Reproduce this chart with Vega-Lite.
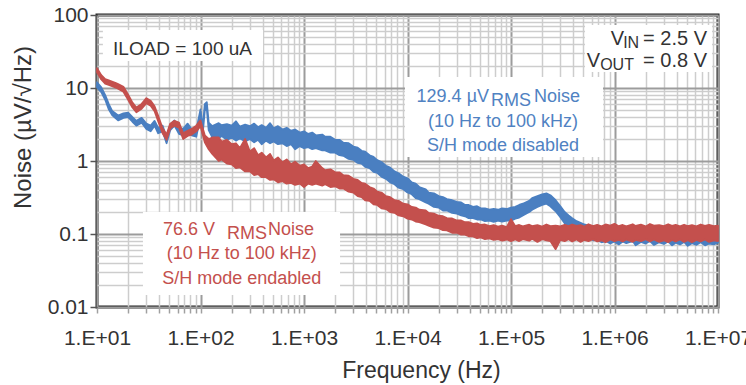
{
  "$schema": "https://vega.github.io/schema/vega-lite/v6.json",
  "width": 621,
  "height": 292,
  "autosize": {"type": "none"},
  "padding": {"left": 97, "top": 15, "right": 28, "bottom": 78},
  "background": "white",
  "config": {
    "view": {"stroke": "#202020", "strokeWidth": 3},
    "font": "Liberation Sans",
    "text": {"font": "Liberation Sans", "baseline": "alphabetic"}
  },
  "datasets": {
    "disabled": [
      {"f": 10, "lo": 10.2, "hi": 12.0}, {"f": 11, "lo": 8.8, "hi": 10.2}, {"f": 12, "lo": 6.9, "hi": 8.0},
      {"f": 13, "lo": 5.1, "hi": 6.0}, {"f": 14, "lo": 4.25, "hi": 4.85}, {"f": 15, "lo": 3.9, "hi": 4.5},
      {"f": 16, "lo": 3.6, "hi": 4.2}, {"f": 18, "lo": 3.9, "hi": 4.5}, {"f": 20, "lo": 4.0, "hi": 4.6},
      {"f": 22, "lo": 3.45, "hi": 4.0}, {"f": 24, "lo": 3.05, "hi": 3.55}, {"f": 27, "lo": 3.35, "hi": 3.9},
      {"f": 30, "lo": 2.75, "hi": 3.25}, {"f": 33, "lo": 2.55, "hi": 3.05}, {"f": 36, "lo": 3.05, "hi": 3.55},
      {"f": 39, "lo": 2.4, "hi": 2.85}, {"f": 43, "lo": 2.55, "hi": 3.05}, {"f": 47, "lo": 1.75, "hi": 2.1},
      {"f": 51, "lo": 2.65, "hi": 3.15}, {"f": 56, "lo": 3.05, "hi": 3.6}, {"f": 62, "lo": 2.35, "hi": 2.85},
      {"f": 68, "lo": 2.25, "hi": 2.75}, {"f": 75, "lo": 2.75, "hi": 3.25}, {"f": 82, "lo": 2.25, "hi": 2.75},
      {"f": 91, "lo": 2.15, "hi": 2.65}, {"f": 100, "lo": 4.1, "hi": 5.1}, {"f": 105, "lo": 2.35, "hi": 2.85},
      {"f": 110, "lo": 4.9, "hi": 6.0}, {"f": 115, "lo": 5.2, "hi": 6.4}, {"f": 120, "lo": 2.65, "hi": 3.35},
      {"f": 130, "lo": 2.1, "hi": 3.0}, {"f": 150, "lo": 2.05, "hi": 3.3}, {"f": 160, "lo": 2.2, "hi": 3.1},
      {"f": 180, "lo": 1.95, "hi": 3.2}, {"f": 200, "lo": 2.1, "hi": 3.05}, {"f": 220, "lo": 1.9, "hi": 3.5},
      {"f": 240, "lo": 2.05, "hi": 2.95}, {"f": 270, "lo": 1.85, "hi": 3.15}, {"f": 300, "lo": 2.0, "hi": 3.0},
      {"f": 330, "lo": 1.8, "hi": 3.25}, {"f": 360, "lo": 1.95, "hi": 2.9}, {"f": 390, "lo": 1.7, "hi": 3.1},
      {"f": 430, "lo": 1.9, "hi": 2.85}, {"f": 470, "lo": 1.75, "hi": 3.3}, {"f": 510, "lo": 1.85, "hi": 2.8},
      {"f": 560, "lo": 1.7, "hi": 3.0}, {"f": 620, "lo": 1.75, "hi": 2.7}, {"f": 680, "lo": 1.6, "hi": 2.85},
      {"f": 750, "lo": 1.7, "hi": 2.6}, {"f": 820, "lo": 1.45, "hi": 2.7}, {"f": 910, "lo": 1.6, "hi": 2.45},
      {"f": 1000, "lo": 1.5, "hi": 2.55}, {"f": 1100, "lo": 1.55, "hi": 2.35}, {"f": 1200, "lo": 1.45, "hi": 2.45},
      {"f": 1300, "lo": 1.5, "hi": 2.25}, {"f": 1500, "lo": 1.4, "hi": 2.3}, {"f": 1600, "lo": 1.4, "hi": 2.15},
      {"f": 1800, "lo": 1.3, "hi": 2.15}, {"f": 2000, "lo": 1.3, "hi": 1.95}, {"f": 2200, "lo": 1.2, "hi": 1.95},
      {"f": 2400, "lo": 1.18, "hi": 1.78}, {"f": 2700, "lo": 1.07, "hi": 1.75}, {"f": 3000, "lo": 1.04, "hi": 1.58},
      {"f": 3300, "lo": 0.94, "hi": 1.52}, {"f": 3600, "lo": 0.92, "hi": 1.38}, {"f": 3900, "lo": 0.83, "hi": 1.34},
      {"f": 4300, "lo": 0.8, "hi": 1.2}, {"f": 4700, "lo": 0.71, "hi": 1.14}, {"f": 5100, "lo": 0.69, "hi": 1.03},
      {"f": 5600, "lo": 0.61, "hi": 0.97}, {"f": 6200, "lo": 0.57, "hi": 0.86}, {"f": 6800, "lo": 0.51, "hi": 0.81},
      {"f": 7500, "lo": 0.48, "hi": 0.72}, {"f": 8200, "lo": 0.43, "hi": 0.68}, {"f": 9100, "lo": 0.41, "hi": 0.61},
      {"f": 10000, "lo": 0.37, "hi": 0.58}, {"f": 11000, "lo": 0.35, "hi": 0.51}, {"f": 12000, "lo": 0.31, "hi": 0.49},
      {"f": 13000, "lo": 0.3, "hi": 0.44}, {"f": 15000, "lo": 0.27, "hi": 0.41}, {"f": 16000, "lo": 0.26, "hi": 0.37},
      {"f": 18000, "lo": 0.235, "hi": 0.36}, {"f": 20000, "lo": 0.23, "hi": 0.33}, {"f": 22000, "lo": 0.21, "hi": 0.32},
      {"f": 24000, "lo": 0.21, "hi": 0.3}, {"f": 27000, "lo": 0.195, "hi": 0.29}, {"f": 30000, "lo": 0.19, "hi": 0.275},
      {"f": 33000, "lo": 0.18, "hi": 0.27}, {"f": 36000, "lo": 0.175, "hi": 0.25}, {"f": 39000, "lo": 0.165, "hi": 0.25},
      {"f": 43000, "lo": 0.165, "hi": 0.235}, {"f": 47000, "lo": 0.158, "hi": 0.24}, {"f": 51000, "lo": 0.158, "hi": 0.225},
      {"f": 56000, "lo": 0.15, "hi": 0.225}, {"f": 62000, "lo": 0.152, "hi": 0.215}, {"f": 68000, "lo": 0.147, "hi": 0.22},
      {"f": 75000, "lo": 0.152, "hi": 0.215}, {"f": 82000, "lo": 0.148, "hi": 0.225}, {"f": 91000, "lo": 0.153, "hi": 0.22},
      {"f": 100000, "lo": 0.152, "hi": 0.23}, {"f": 110000, "lo": 0.162, "hi": 0.235}, {"f": 120000, "lo": 0.168, "hi": 0.25},
      {"f": 130000, "lo": 0.18, "hi": 0.26}, {"f": 150000, "lo": 0.2, "hi": 0.285}, {"f": 160000, "lo": 0.215, "hi": 0.31},
      {"f": 180000, "lo": 0.235, "hi": 0.33}, {"f": 200000, "lo": 0.25, "hi": 0.35}, {"f": 220000, "lo": 0.26, "hi": 0.36},
      {"f": 240000, "lo": 0.24, "hi": 0.34}, {"f": 270000, "lo": 0.205, "hi": 0.29}, {"f": 300000, "lo": 0.17, "hi": 0.24},
      {"f": 330000, "lo": 0.14, "hi": 0.2}, {"f": 360000, "lo": 0.125, "hi": 0.18}, {"f": 390000, "lo": 0.115, "hi": 0.165},
      {"f": 430000, "lo": 0.105, "hi": 0.15}, {"f": 470000, "lo": 0.1, "hi": 0.142}, {"f": 510000, "lo": 0.093, "hi": 0.135},
      {"f": 560000, "lo": 0.09, "hi": 0.13}, {"f": 620000, "lo": 0.082, "hi": 0.125}, {"f": 680000, "lo": 0.083, "hi": 0.12},
      {"f": 750000, "lo": 0.077, "hi": 0.118}, {"f": 820000, "lo": 0.08, "hi": 0.116}, {"f": 910000, "lo": 0.074, "hi": 0.117},
      {"f": 1000000, "lo": 0.079, "hi": 0.113}, {"f": 1100000, "lo": 0.072, "hi": 0.112}, {"f": 1200000, "lo": 0.079, "hi": 0.115},
      {"f": 1300000, "lo": 0.075, "hi": 0.11}, {"f": 1500000, "lo": 0.08, "hi": 0.118}, {"f": 1600000, "lo": 0.07, "hi": 0.112},
      {"f": 1800000, "lo": 0.078, "hi": 0.115}, {"f": 2000000, "lo": 0.074, "hi": 0.111}, {"f": 2200000, "lo": 0.08, "hi": 0.117},
      {"f": 2400000, "lo": 0.071, "hi": 0.11}, {"f": 2700000, "lo": 0.077, "hi": 0.116}, {"f": 3000000, "lo": 0.073, "hi": 0.112},
      {"f": 3300000, "lo": 0.079, "hi": 0.118}, {"f": 3600000, "lo": 0.07, "hi": 0.11}, {"f": 3900000, "lo": 0.076, "hi": 0.114},
      {"f": 4300000, "lo": 0.072, "hi": 0.112}, {"f": 4700000, "lo": 0.078, "hi": 0.116}, {"f": 5100000, "lo": 0.069, "hi": 0.109},
      {"f": 5600000, "lo": 0.075, "hi": 0.114}, {"f": 6200000, "lo": 0.071, "hi": 0.11}, {"f": 6800000, "lo": 0.077, "hi": 0.115},
      {"f": 7500000, "lo": 0.07, "hi": 0.108}, {"f": 8200000, "lo": 0.074, "hi": 0.113}, {"f": 9100000, "lo": 0.072, "hi": 0.11},
      {"f": 10000000, "lo": 0.076, "hi": 0.112}
    ],
    "enabled": [
      {"f": 10, "lo": 16.4, "hi": 18.7}, {"f": 11, "lo": 13.1, "hi": 15.0}, {"f": 12, "lo": 11.5, "hi": 13.2},
      {"f": 13, "lo": 11.0, "hi": 12.7}, {"f": 15, "lo": 10.2, "hi": 11.8}, {"f": 16, "lo": 9.8, "hi": 11.3},
      {"f": 18, "lo": 8.9, "hi": 10.4}, {"f": 20, "lo": 6.9, "hi": 8.1}, {"f": 22, "lo": 5.4, "hi": 6.3},
      {"f": 24, "lo": 4.65, "hi": 5.4}, {"f": 27, "lo": 5.2, "hi": 6.05}, {"f": 30, "lo": 6.2, "hi": 7.25},
      {"f": 33, "lo": 5.7, "hi": 6.7}, {"f": 36, "lo": 4.8, "hi": 5.6}, {"f": 39, "lo": 3.5, "hi": 4.15},
      {"f": 43, "lo": 2.4, "hi": 2.8}, {"f": 47, "lo": 1.95, "hi": 2.3}, {"f": 51, "lo": 2.8, "hi": 3.25},
      {"f": 56, "lo": 3.05, "hi": 3.55}, {"f": 62, "lo": 2.85, "hi": 3.35}, {"f": 68, "lo": 2.0, "hi": 2.4},
      {"f": 75, "lo": 2.2, "hi": 2.6}, {"f": 82, "lo": 2.3, "hi": 2.75}, {"f": 91, "lo": 2.55, "hi": 3.05},
      {"f": 100, "lo": 3.0, "hi": 3.6}, {"f": 110, "lo": 1.8, "hi": 2.25}, {"f": 120, "lo": 1.45, "hi": 2.0},
      {"f": 130, "lo": 1.25, "hi": 2.1}, {"f": 150, "lo": 1.0, "hi": 2.1}, {"f": 160, "lo": 1.05, "hi": 1.85},
      {"f": 180, "lo": 0.92, "hi": 1.95}, {"f": 200, "lo": 0.9, "hi": 1.7}, {"f": 220, "lo": 0.8, "hi": 1.75},
      {"f": 240, "lo": 0.82, "hi": 1.5}, {"f": 270, "lo": 0.72, "hi": 2.0}, {"f": 300, "lo": 0.72, "hi": 1.35},
      {"f": 330, "lo": 0.64, "hi": 1.5}, {"f": 360, "lo": 0.66, "hi": 1.2}, {"f": 390, "lo": 0.6, "hi": 1.3},
      {"f": 430, "lo": 0.6, "hi": 1.12}, {"f": 470, "lo": 0.55, "hi": 1.25}, {"f": 510, "lo": 0.56, "hi": 1.02},
      {"f": 560, "lo": 0.51, "hi": 1.12}, {"f": 620, "lo": 0.53, "hi": 0.96}, {"f": 680, "lo": 0.49, "hi": 1.05},
      {"f": 750, "lo": 0.5, "hi": 0.9}, {"f": 820, "lo": 0.47, "hi": 0.98}, {"f": 910, "lo": 0.49, "hi": 0.86},
      {"f": 1000, "lo": 0.44, "hi": 0.9}, {"f": 1100, "lo": 0.49, "hi": 0.8}, {"f": 1200, "lo": 0.47, "hi": 0.84},
      {"f": 1300, "lo": 0.49, "hi": 1.0}, {"f": 1500, "lo": 0.46, "hi": 0.8}, {"f": 1600, "lo": 0.48, "hi": 0.75},
      {"f": 1800, "lo": 0.44, "hi": 0.77}, {"f": 2000, "lo": 0.45, "hi": 0.7}, {"f": 2200, "lo": 0.42, "hi": 0.7},
      {"f": 2400, "lo": 0.42, "hi": 0.64}, {"f": 2700, "lo": 0.38, "hi": 0.63}, {"f": 3000, "lo": 0.37, "hi": 0.57},
      {"f": 3300, "lo": 0.33, "hi": 0.55}, {"f": 3600, "lo": 0.32, "hi": 0.5}, {"f": 3900, "lo": 0.29, "hi": 0.49},
      {"f": 4300, "lo": 0.285, "hi": 0.44}, {"f": 4700, "lo": 0.255, "hi": 0.42}, {"f": 5100, "lo": 0.25, "hi": 0.38},
      {"f": 5600, "lo": 0.225, "hi": 0.37}, {"f": 6200, "lo": 0.22, "hi": 0.33}, {"f": 6800, "lo": 0.2, "hi": 0.32},
      {"f": 7500, "lo": 0.195, "hi": 0.29}, {"f": 8200, "lo": 0.18, "hi": 0.285}, {"f": 9100, "lo": 0.175, "hi": 0.26},
      {"f": 10000, "lo": 0.162, "hi": 0.255}, {"f": 11000, "lo": 0.158, "hi": 0.235}, {"f": 12000, "lo": 0.148, "hi": 0.23},
      {"f": 13000, "lo": 0.145, "hi": 0.215}, {"f": 15000, "lo": 0.135, "hi": 0.21}, {"f": 16000, "lo": 0.13, "hi": 0.195},
      {"f": 18000, "lo": 0.122, "hi": 0.19}, {"f": 20000, "lo": 0.12, "hi": 0.178}, {"f": 22000, "lo": 0.113, "hi": 0.175},
      {"f": 24000, "lo": 0.112, "hi": 0.165}, {"f": 27000, "lo": 0.104, "hi": 0.163}, {"f": 30000, "lo": 0.104, "hi": 0.153},
      {"f": 33000, "lo": 0.098, "hi": 0.153}, {"f": 36000, "lo": 0.098, "hi": 0.145}, {"f": 39000, "lo": 0.093, "hi": 0.145},
      {"f": 43000, "lo": 0.093, "hi": 0.138}, {"f": 47000, "lo": 0.088, "hi": 0.14}, {"f": 51000, "lo": 0.09, "hi": 0.133},
      {"f": 56000, "lo": 0.085, "hi": 0.135}, {"f": 62000, "lo": 0.087, "hi": 0.128}, {"f": 68000, "lo": 0.083, "hi": 0.132},
      {"f": 75000, "lo": 0.085, "hi": 0.126}, {"f": 82000, "lo": 0.081, "hi": 0.13}, {"f": 91000, "lo": 0.084, "hi": 0.124},
      {"f": 100000, "lo": 0.08, "hi": 0.16}, {"f": 110000, "lo": 0.084, "hi": 0.128}, {"f": 120000, "lo": 0.08, "hi": 0.133},
      {"f": 130000, "lo": 0.085, "hi": 0.127}, {"f": 150000, "lo": 0.081, "hi": 0.134}, {"f": 160000, "lo": 0.086, "hi": 0.128},
      {"f": 180000, "lo": 0.078, "hi": 0.132}, {"f": 200000, "lo": 0.085, "hi": 0.126}, {"f": 220000, "lo": 0.082, "hi": 0.135},
      {"f": 240000, "lo": 0.08, "hi": 0.128}, {"f": 270000, "lo": 0.062, "hi": 0.13}, {"f": 300000, "lo": 0.083, "hi": 0.127},
      {"f": 330000, "lo": 0.08, "hi": 0.134}, {"f": 360000, "lo": 0.085, "hi": 0.128}, {"f": 390000, "lo": 0.079, "hi": 0.135},
      {"f": 430000, "lo": 0.084, "hi": 0.129}, {"f": 470000, "lo": 0.078, "hi": 0.132}, {"f": 510000, "lo": 0.083, "hi": 0.126},
      {"f": 560000, "lo": 0.08, "hi": 0.136}, {"f": 620000, "lo": 0.085, "hi": 0.128}, {"f": 680000, "lo": 0.079, "hi": 0.133},
      {"f": 750000, "lo": 0.082, "hi": 0.127}, {"f": 820000, "lo": 0.077, "hi": 0.135}, {"f": 910000, "lo": 0.084, "hi": 0.13},
      {"f": 1000000, "lo": 0.08, "hi": 0.138}, {"f": 1100000, "lo": 0.083, "hi": 0.128}, {"f": 1200000, "lo": 0.079, "hi": 0.133},
      {"f": 1300000, "lo": 0.084, "hi": 0.127}, {"f": 1500000, "lo": 0.078, "hi": 0.136}, {"f": 1600000, "lo": 0.083, "hi": 0.129},
      {"f": 1800000, "lo": 0.08, "hi": 0.134}, {"f": 2000000, "lo": 0.085, "hi": 0.127}, {"f": 2200000, "lo": 0.079, "hi": 0.137},
      {"f": 2400000, "lo": 0.084, "hi": 0.13}, {"f": 2700000, "lo": 0.078, "hi": 0.132}, {"f": 3000000, "lo": 0.082, "hi": 0.128},
      {"f": 3300000, "lo": 0.077, "hi": 0.136}, {"f": 3600000, "lo": 0.083, "hi": 0.129}, {"f": 3900000, "lo": 0.079, "hi": 0.133},
      {"f": 4300000, "lo": 0.084, "hi": 0.127}, {"f": 4700000, "lo": 0.078, "hi": 0.134}, {"f": 5100000, "lo": 0.082, "hi": 0.128},
      {"f": 5600000, "lo": 0.077, "hi": 0.132}, {"f": 6200000, "lo": 0.083, "hi": 0.127}, {"f": 6800000, "lo": 0.079, "hi": 0.135},
      {"f": 7500000, "lo": 0.084, "hi": 0.129}, {"f": 8200000, "lo": 0.078, "hi": 0.133}, {"f": 9100000, "lo": 0.082, "hi": 0.128},
      {"f": 10000000, "lo": 0.08, "hi": 0.13}
    ]
  },
  "layer": [
    {
      "data": {"values": [
        {"f1": 11.4, "f2": 402, "v1": 23.4, "v2": 62.4},
        {"f1": 519000, "f2": 8750000, "v1": 16.6, "v2": 73},
        {"f1": 9460, "f2": 774000, "v1": 1.135, "v2": 14.2},
        {"f1": 27.8, "f2": 2230, "v1": 0.0146, "v2": 0.2}
      ]},
      "mark": {"type": "rect", "fill": "white", "stroke": null},
      "encoding": {
        "x": {
          "field": "f1", "type": "quantitative",
          "scale": {"type": "log", "domain": [10, 10000000], "nice": false},
          "axis": {
            "title": "Frequency (Hz)",
            "values": [10, 20, 30, 40, 50, 60, 70, 80, 90, 100, 200, 300, 400, 500, 600, 700, 800, 900, 1000, 2000, 3000, 4000, 5000, 6000, 7000, 8000, 9000, 10000, 20000, 30000, 40000, 50000, 60000, 70000, 80000, 90000, 100000, 200000, 300000, 400000, 500000, 600000, 700000, 800000, 900000, 1000000, 2000000, 3000000, 4000000, 5000000, 6000000, 7000000, 8000000, 9000000, 10000000],
            "grid": true,
            "domain": false,
            "gridColor": {"condition": {"test": "abs(log(datum.value)/LN10 - round(log(datum.value)/LN10)) < 0.01", "value": "#9c9c9c"}, "value": "#cdcdcd"},
            "gridWidth": {"condition": {"test": "abs(log(datum.value)/LN10 - round(log(datum.value)/LN10)) < 0.01", "value": 2}, "value": 1.5},
            "ticks": true, "tickSize": 6, "tickWidth": 1.5, "tickColor": "#a0a0a0",
            "labelExpr": "abs(log(datum.value)/LN10 - round(log(datum.value)/LN10)) < 0.01 ? '1.E+0' + round(log(datum.value)/LN10) : ''",
            "labelFont": "Liberation Sans", "labelFontSize": 21, "labelColor": "#333333",
            "labelPadding": 14, "labelOverlap": false, "labelFlush": false, "labelBound": false,
            "titleFont": "Liberation Sans", "titleFontSize": 23, "titleFontWeight": "normal", "titleColor": "#333333",
            "titlePadding": 11, "titleX": 324, "titleAlign": "center"
          }
        },
        "x2": {"field": "f2"},
        "y": {
          "field": "v1", "type": "quantitative",
          "scale": {"type": "log", "domain": [0.01, 100], "nice": false},
          "axis": {
            "title": "Noise (µV/√Hz)",
            "values": [0.01, 0.02, 0.03, 0.04, 0.05, 0.06, 0.07, 0.08, 0.09, 0.1, 0.2, 0.3, 0.4, 0.5, 0.6, 0.7, 0.8, 0.9, 1, 2, 3, 4, 5, 6, 7, 8, 9, 10, 20, 30, 40, 50, 60, 70, 80, 90, 100],
            "grid": true,
            "domain": false,
            "gridColor": {"condition": {"test": "abs(log(datum.value)/LN10 - round(log(datum.value)/LN10)) < 0.01", "value": "#9c9c9c"}, "value": "#cdcdcd"},
            "gridWidth": {"condition": {"test": "abs(log(datum.value)/LN10 - round(log(datum.value)/LN10)) < 0.01", "value": 2}, "value": 1.5},
            "ticks": true, "tickSize": 7, "tickWidth": 1.5, "tickColor": "#555555",
            "tickOpacity": {"condition": {"test": "abs(log(datum.value)/LN10 - round(log(datum.value)/LN10)) < 0.01", "value": 1}, "value": 0},
            "labelExpr": "abs(log(datum.value)/LN10 - round(log(datum.value)/LN10)) < 0.01 ? format(datum.value, '~g') : ''",
            "labelFont": "Liberation Sans", "labelFontSize": 21, "labelColor": "#333333",
            "labelPadding": 2, "labelOverlap": false, "labelBound": false,
            "titleFont": "Liberation Sans", "titleFontSize": 24, "titleFontWeight": "normal", "titleColor": "#333333",
            "titlePadding": 12, "titleY": 112, "titleAlign": "center"
          }
        },
        "y2": {"field": "v2"}
      }
    },
    {
      "data": {"name": "disabled"},
      "mark": {"type": "area", "color": "#4a7fc1", "stroke": "#4a7fc1", "strokeWidth": 1.8, "strokeJoin": "round"},
      "encoding": {
        "x": {"field": "f", "type": "quantitative", "scale": {"type": "log", "domain": [10, 10000000], "nice": false}},
        "y": {"field": "hi", "type": "quantitative", "scale": {"type": "log", "domain": [0.01, 100], "nice": false}},
        "y2": {"field": "lo"}
      }
    },
    {
      "data": {"name": "enabled"},
      "mark": {"type": "area", "color": "#c4504d", "stroke": "#c4504d", "strokeWidth": 1.8, "strokeJoin": "round"},
      "encoding": {
        "x": {"field": "f", "type": "quantitative", "scale": {"type": "log", "domain": [10, 10000000], "nice": false}},
        "y": {"field": "hi", "type": "quantitative", "scale": {"type": "log", "domain": [0.01, 100], "nice": false}},
        "y2": {"field": "lo"}
      }
    },
    {
      "data": {"values": [{"f": 14.3, "v": 28.3, "t": "ILOAD = 100 uA"}]},
      "mark": {"type": "text", "align": "left", "fontSize": 19, "color": "#333333"},
      "encoding": {
        "x": {"field": "f", "type": "quantitative", "scale": {"type": "log", "domain": [10, 10000000], "nice": false}},
        "y": {"field": "v", "type": "quantitative", "scale": {"type": "log", "domain": [0.01, 100], "nice": false}},
        "text": {"field": "t"}
      }
    },
    {
      "data": {"values": [
        {"f": 7830000, "v": 38.8, "t": "= 2.5 V"},
        {"f": 1240000, "v": 38.8, "t": "V"},
        {"f": 7830000, "v": 19.4, "t": "= 0.8 V"},
        {"f": 724000, "v": 19.4, "t": "V"}
      ]},
      "mark": {"type": "text", "align": "right", "fontSize": 20, "color": "#333333"},
      "encoding": {
        "x": {"field": "f", "type": "quantitative", "scale": {"type": "log", "domain": [10, 10000000], "nice": false}},
        "y": {"field": "v", "type": "quantitative", "scale": {"type": "log", "domain": [0.01, 100], "nice": false}},
        "text": {"field": "t"}
      }
    },
    {
      "data": {"values": [
        {"f": 1730000, "v": 35.3, "t": "IN"},
        {"f": 1540000, "v": 17.6, "t": "OUT"}
      ]},
      "mark": {"type": "text", "align": "right", "fontSize": 16, "color": "#333333"},
      "encoding": {
        "x": {"field": "f", "type": "quantitative", "scale": {"type": "log", "domain": [10, 10000000], "nice": false}},
        "y": {"field": "v", "type": "quantitative", "scale": {"type": "log", "domain": [0.01, 100], "nice": false}},
        "text": {"field": "t"}
      }
    },
    {
      "data": {"values": [{"f": 61300, "v": 6.43, "t": "129.4 µV"}]},
      "mark": {"type": "text", "align": "right", "fontSize": 18, "color": "#5082c2"},
      "encoding": {
        "x": {"field": "f", "type": "quantitative", "scale": {"type": "log", "domain": [10, 10000000], "nice": false}},
        "y": {"field": "v", "type": "quantitative", "scale": {"type": "log", "domain": [0.01, 100], "nice": false}},
        "text": {"field": "t"}
      }
    },
    {
      "data": {"values": [
        {"f": 64100, "v": 5.67, "t": "RMS"},
        {"f": 167000, "v": 6.43, "t": "Noise"}
      ]},
      "mark": {"type": "text", "align": "left", "fontSize": 18, "color": "#5082c2"},
      "encoding": {
        "x": {"field": "f", "type": "quantitative", "scale": {"type": "log", "domain": [10, 10000000], "nice": false}},
        "y": {"field": "v", "type": "quantitative", "scale": {"type": "log", "domain": [0.01, 100], "nice": false}},
        "text": {"field": "t"}
      }
    },
    {
      "data": {"values": [
        {"f": 83700, "v": 2.92, "t": "(10 Hz to 100 kHz)"},
        {"f": 83700, "v": 1.37, "t": "S/H mode disabled"}
      ]},
      "mark": {"type": "text", "align": "center", "fontSize": 18, "color": "#5082c2"},
      "encoding": {
        "x": {"field": "f", "type": "quantitative", "scale": {"type": "log", "domain": [10, 10000000], "nice": false}},
        "y": {"field": "v", "type": "quantitative", "scale": {"type": "log", "domain": [0.01, 100], "nice": false}},
        "text": {"field": "t"}
      }
    },
    {
      "data": {"values": [
        {"f": 43.4, "v": 0.0969, "t": "76.6 V"},
        {"f": 180, "v": 0.086, "t": "RMS"},
        {"f": 449, "v": 0.0969, "t": "Noise"}
      ]},
      "mark": {"type": "text", "align": "left", "fontSize": 18, "color": "#c4504d"},
      "encoding": {
        "x": {"field": "f", "type": "quantitative", "scale": {"type": "log", "domain": [10, 10000000], "nice": false}},
        "y": {"field": "v", "type": "quantitative", "scale": {"type": "log", "domain": [0.01, 100], "nice": false}},
        "text": {"field": "t"}
      }
    },
    {
      "data": {"values": [
        {"f": 250, "v": 0.0455, "t": "(10 Hz to 100 kHz)"},
        {"f": 250, "v": 0.0207, "t": "S/H mode endabled"}
      ]},
      "mark": {"type": "text", "align": "center", "fontSize": 18, "color": "#c4504d"},
      "encoding": {
        "x": {"field": "f", "type": "quantitative", "scale": {"type": "log", "domain": [10, 10000000], "nice": false}},
        "y": {"field": "v", "type": "quantitative", "scale": {"type": "log", "domain": [0.01, 100], "nice": false}},
        "text": {"field": "t"}
      }
    }
  ]
}
